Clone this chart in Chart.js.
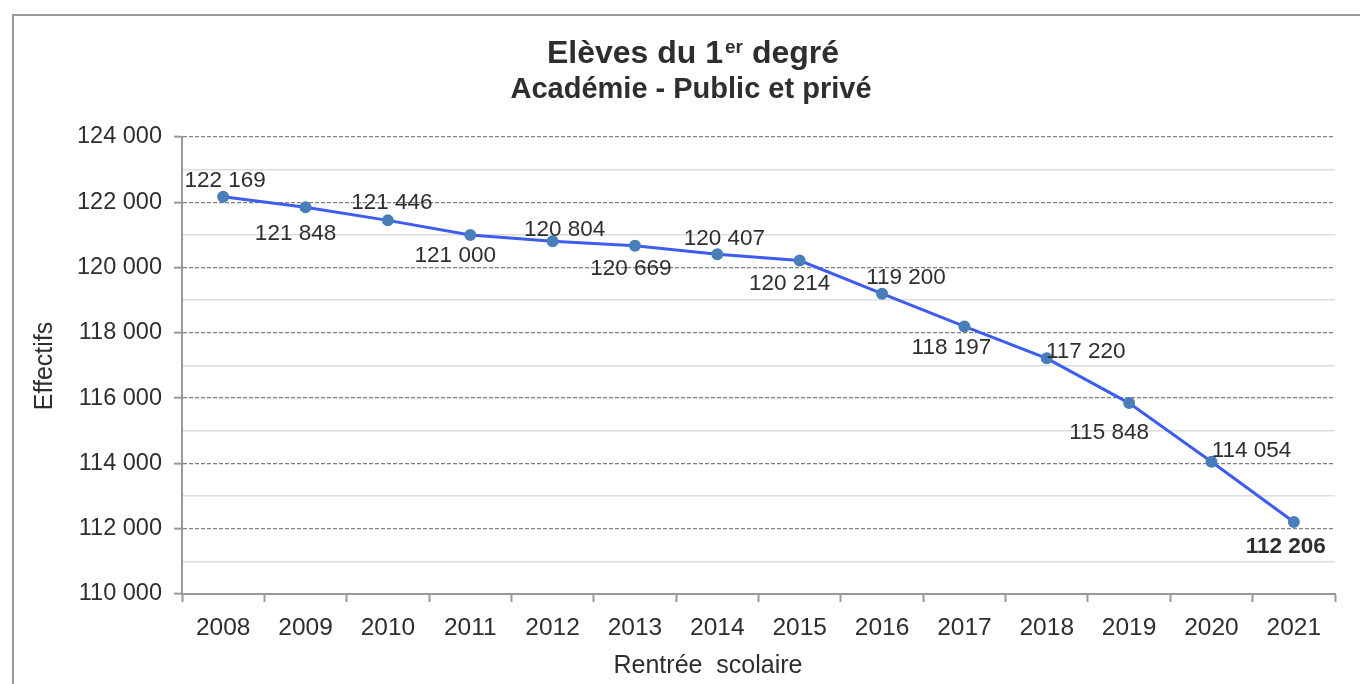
<!DOCTYPE html>
<html lang="fr">
<head>
<meta charset="utf-8">
<title>Elèves du 1er degré</title>
<script src="https://cdn.jsdelivr.net/npm/chart.js@4.4.1/dist/chart.umd.min.js"></script>
<style>
    html, body { margin: 0; padding: 0; background: #fff; }
    #wrap { position: relative; width: 1360px; height: 684px; }
</style>
</head>
<body>
<div id="wrap"><canvas id="elevesChart" width="1360" height="684"></canvas></div>
<script>
// données
const years = ['2008', '2009', '2010', '2011', '2012', '2013', '2014',
               '2015', '2016', '2017', '2018', '2019', '2020', '2021'];
const effectifs = [122169, 121848, 121446, 121000, 120804, 120669, 120407,
                   120214, 119200, 118197, 117220, 115848, 114054, 112206];
const yRange = [110000, 124000];
const yStep = 1000;

// décalage des étiquettes par rapport au point (dx, dy)
const labelOffsets = [
    [2, -16], [-10, 27], [4, -18], [-15, 21], [12, -12], [-4, 23], [7, -15],
    [-10, 23], [24, -16], [-13, 21], [39, -7], [-20, 30], [40, -11], [-8, 25]
];

const FONT = '"Liberation Sans", Arial, sans-serif';
const textColor = '#2e2e2e';
const axisColor = '#999';
const lineColor = '#3d5cf0';
const pointColor = '#4a7ebb';

const fmt = v => String(v).replace(/\B(?=(\d{3})+(?!\d))/g, ' ');
const isMajor = v => v % 2000 === 0;

const decorPlugin = {
    id: 'decor',
    beforeDraw(chart) {
        const ctx = chart.ctx;
        ctx.save();
        ctx.strokeStyle = '#999';
        ctx.lineWidth = 2;
        ctx.beginPath();
        ctx.moveTo(13, 684);
        ctx.lineTo(13, 15);
        ctx.lineTo(1360, 15);
        ctx.stroke();
        ctx.restore();
    },
    afterDraw(chart) {
        const ctx = chart.ctx;
        ctx.save();
        ctx.fillStyle = textColor;
        ctx.textBaseline = 'alphabetic';

        // titre avec exposant
        const a = 'Elèves du 1', sup = 'er', b = ' degré';
        const big = `bold 32px ${FONT}`, small = `bold 19px ${FONT}`;
        ctx.font = big;
        const wa = ctx.measureText(a).width, wb = ctx.measureText(b).width;
        ctx.font = small;
        const ws = ctx.measureText(sup).width;
        let x = 692 - (wa + ws + wb) / 2;
        ctx.textAlign = 'left';
        ctx.font = big;
        ctx.fillText(a, x, 63);
        ctx.font = small;
        ctx.fillText(sup, x + wa + 2, 53);
        ctx.font = big;
        ctx.fillText(b, x + wa + ws + 2, 63);

        ctx.textAlign = 'center';
        ctx.font = `bold 29px ${FONT}`;
        ctx.fillText('Académie - Public et privé', 691, 98);

        // titres des axes
        ctx.font = `25px ${FONT}`;
        ctx.textBaseline = 'middle';
        ctx.fillText('Rentrée  scolaire', 708, 666);
        ctx.translate(45, 366);
        ctx.rotate(-Math.PI / 2);
        ctx.fillText('Effectifs', 0, 0);
        ctx.restore();
    },
    afterDatasetsDraw(chart) {
        const ctx = chart.ctx;
        const meta = chart.getDatasetMeta(0);
        ctx.save();
        ctx.fillStyle = textColor;
        ctx.textAlign = 'center';
        ctx.textBaseline = 'middle';
        meta.data.forEach((pt, i) => {
            const last = i === effectifs.length - 1;
            ctx.font = `${last ? 'bold ' : ''}22.5px ${FONT}`;
            const [dx, dy] = labelOffsets[i];
            ctx.fillText(fmt(effectifs[i]), pt.x + dx, pt.y + dy);
        });
        ctx.restore();
    }
};

new Chart(document.getElementById('elevesChart').getContext('2d'), {
    type: 'line',
    data: {
        labels: years,
        datasets: [{
            data: effectifs,
            borderColor: lineColor,
            borderWidth: 3,
            pointBackgroundColor: pointColor,
            pointBorderColor: pointColor,
            pointRadius: 4.5,
            tension: 0,
            fill: false
        }]
    },
    options: {
        responsive: false,
        animation: false,
        layout: { padding: { left: 0, top: 137, right: 25, bottom: 0 } },
        plugins: {
            legend: { display: false },
            title: { display: false },
            tooltip: { enabled: false }
        },
        scales: {
            x: {
                offset: true,
                afterFit: s => { s.height = 90; },
                grid: {
                    offset: true,
                    drawOnChartArea: false,
                    tickLength: 8,
                    tickColor: axisColor,
                    tickWidth: 2
                },
                border: { color: axisColor, width: 2 },
                ticks: {
                    color: textColor,
                    font: { family: FONT, size: 24.5 },
                    padding: 12,
                    maxRotation: 0,
                    autoSkip: false
                }
            },
            y: {
                min: yRange[0],
                max: yRange[1],
                afterFit: s => { s.width = 182; },
                grid: {
                    color: c => isMajor(c.tick.value) ? '#808080' : '#dcdcdc',
                    lineWidth: c => isMajor(c.tick.value) ? 1.3 : 1.6,
                    tickLength: 8,
                    tickWidth: 2,
                    tickColor: c => isMajor(c.tick.value) ? axisColor : 'rgba(0,0,0,0)',
                    tickBorderDash: []
                },
                border: {
                    color: axisColor,
                    width: 2,
                    dash: c => (c.tick && isMajor(c.tick.value)) ? [4, 2] : []
                },
                ticks: {
                    stepSize: yStep,
                    autoSkip: false,
                    color: textColor,
                    padding: 12,
                    font: { family: FONT, size: 23.5 },
                    callback: v => isMajor(v) ? fmt(v) : ''
                }
            }
        }
    },
    plugins: [decorPlugin]
});
</script>
</body>
</html>
